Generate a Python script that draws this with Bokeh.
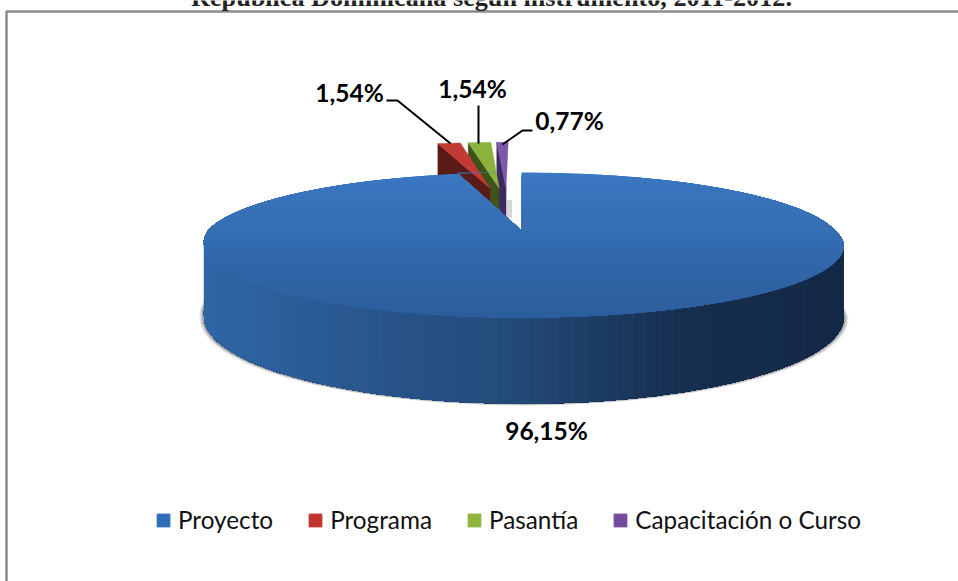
import numpy as np
from bokeh.plotting import figure
from bokeh.models import Range1d, Legend, LegendItem, Label
from bokeh.embed import file_html
from bokeh.resources import INLINE

TITLE = "República Dominicana según instrumento, 2011-2012."
categories = ["Proyecto", "Programa", "Pasantía", "Capacitación o Curso"]
values = [96.15, 1.54, 1.54, 0.77]
value_labels = ["96,15%", "1,54%", "1,54%", "0,77%"]
legend_colors = ["#2f6db5", "#c0352f", "#8fb53c", "#734a9e"]
top_colors = [None, "#c23a33", "#8cb23e", "#7b59a8"]
wall_colors = [None, "#5a1a17", "#3f5219", "#3d2a61"]

W, H = 958, 581
CX, CY, R = 521.0, 230.0, 313.5   # apex of the big slice on the page
PERSP, PY = 0.2, 69.6             # perspective of the pie plane
DEPTH = 69.0                      # pie thickness
EXPLODE = 0.35
FRONT_SHIFT = 2.5                 # the big slice's front half sits a little to the right


def project(u, v):
    u, v = np.asarray(u, float), np.asarray(v, float)
    d = 1 + PERSP * v
    return CX + R * u / d, CY - PY * v / d, DEPTH / d


def project_big(u, v):
    x, y, dp = project(u, v)
    return x + FRONT_SHIFT * np.clip(-np.asarray(v, float) / 0.2, 0, 1), y, dp


def mix(a, b, t):
    a = [int(a[i:i + 2], 16) for i in (1, 3, 5)]
    b = [int(b[i:i + 2], 16) for i in (1, 3, 5)]
    return "#%02x%02x%02x" % tuple(round(x + (y - x) * t) for x, y in zip(a, b))


p = figure(width=W, height=H, output_backend="svg", toolbar_location=None,
           x_range=Range1d(0, W), y_range=Range1d(H, 0), min_border=0,
           margin=0, outline_line_color=None,
           background_fill_color="white", border_fill_color="white")
p.xaxis.visible = False
p.yaxis.visible = False
p.grid.visible = False

# frame
p.line([6, 6, W], [H, 11, 11], line_color="#8c8c8c", line_width=2.5)

# slice angles, clockwise from 12 o'clock
sweep = np.array(values) / sum(values) * 2 * np.pi
edges = np.concatenate([[0], np.cumsum(sweep)])
mids = (edges[:-1] + edges[1:]) / 2

big_end = edges[1]
big_dir = np.array([np.sin(mids[0]), np.cos(mids[0])])
cu, cv = -EXPLODE * big_dir   # true pie centre: the big slice is pushed away from it

# small slices, back to front
for i in (3, 2, 1):
    du, dv = np.sin(mids[i]), np.cos(mids[i])
    au, av = cu + EXPLODE * du, cv + EXPLODE * dv
    th = np.linspace(edges[i], edges[i + 1], 12)
    xs, ys, ds = project(au + np.sin(th), av + np.cos(th))
    xs = xs - 1.5
    ax, ay, ad = project(au, av)
    ax = ax - 1.5
    if i == 3:  # faint shadow in the gap, right of the last slice
        p.patch([ax + 1, ax + 6, ax + 6, ax + 1],
                [ay + 12, ay + 12, ay + 30, ay + 30],
                fill_color="#777777", fill_alpha=0.3, line_color=None)
    p.patch([xs[0], ax, ax, xs[0]], [ys[0], ay, ay + ad, ys[0] + ds[0]],
            fill_color=wall_colors[i], line_color=wall_colors[i], line_width=0.5)
    p.patch(np.r_[ax, xs], np.r_[ay, ys], fill_color=top_colors[i],
            line_color=top_colors[i], line_width=0.5)

# soft shadow under the big slice
full = np.linspace(0, 2 * np.pi, 240)
sx, sy, sd = project_big(np.sin(full), np.cos(full))
mx = (sx.max() + sx.min()) / 2
for grow, alpha in ((1.014, 0.14), (1.010, 0.22), (1.006, 0.34)):
    p.patch(mx + (sx - mx) * grow, sy + sd + (grow - 1) * 120,
            fill_color="#666666", fill_alpha=alpha, line_color=None)

# outer wall of the big slice: nested bands, shaded right (dark) to left
th = np.linspace(np.pi * 0.3, big_end * 0.8, 300)
wx, wy, wd = project_big(np.sin(th), np.cos(th))
xmin, xmax = wx.min(), wx.max()
wall_stops = ["#2f66a6", "#29578f", "#234a78", "#162f50", "#132845"]
for k in range(0, len(th) - 1, 3):
    t = (wx[k] - xmin) / (xmax - xmin) * (len(wall_stops) - 1)
    t = (len(wall_stops) - 1) - ((len(wall_stops) - 1) - t)
    j = min(int(t), len(wall_stops) - 2)
    c = mix(wall_stops[j], wall_stops[j + 1], t - j)
    p.patch(np.r_[wx[k:], wx[k:][::-1]], np.r_[wy[k:], (wy + wd)[k:][::-1]],
            fill_color=c, line_color=None)

# top face of the big slice: nested bands, shaded back to front
slope = np.tan(2 * np.pi - big_end)
top_a, top_b = "#3b78c2", "#2b5d9b"
for vk in np.linspace(1, -0.97, 60):
    a0 = np.arccos(vk)
    a = np.linspace(a0, 2 * np.pi - a0, 240)
    u, v = np.sin(a), np.cos(a)
    if vk > 0:
        u = np.r_[u, -vk * slope, 0.0, 0.0]
        v = np.r_[v, vk, 0.0, vk]
    qx, qy, _ = project_big(u, v)
    _, ym, _ = project(0, vk)
    c = mix(top_a, top_b, (ym - (CY - 58)) / 145)
    p.patch(qx, qy, fill_color=c, line_color=None)

# leader lines
p.line([386, 397, 450], [100, 100, 143], line_color="black", line_width=2)
p.line([478, 478], [105, 143], line_color="black", line_width=2)
p.line([502, 522, 532], [144, 130, 130], line_color="black", line_width=2)

# data labels
label_pos = [(546, 430), (349, 92), (472, 88), (569, 120)]
for txt, (x, y) in zip(value_labels, label_pos):
    p.add_layout(Label(x=x, y=y, text=txt, text_font="Lato", text_font_style="bold",
                       text_font_size="24.5px", text_color="black",
                       text_align="center", text_baseline="middle"))

# title, cut by the top of the page as in the source
p.add_layout(Label(x=491, y=-3, text=TITLE, text_font="Liberation Serif",
                   text_font_style="bold", text_font_size="26.2px", text_color="#222222",
                   text_align="center", text_baseline="alphabetic"))

# legend
items = []
for name, col in zip(categories, legend_colors):
    r = p.quad(left=[-50], right=[-40], top=[-40], bottom=[-50], fill_color=col, line_color=col)
    items.append(LegendItem(label=name, renderers=[r]))
legend = Legend(items=items, orientation="horizontal", location=(155, 47),
                glyph_width=16, glyph_height=16, label_standoff=7, spacing=34,
                padding=0, margin=0, border_line_color=None, background_fill_alpha=0,
                label_text_font="Lato", label_text_font_size="24.3px",
                label_text_color="#111111", label_height=26)
p.add_layout(legend, "center")

open("out.html", "w").write(file_html(p, INLINE))
